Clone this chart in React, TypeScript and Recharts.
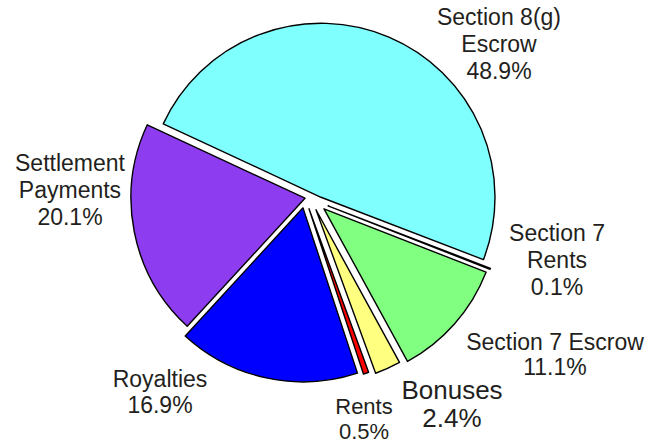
import React from 'react';
import { PieChart, Pie, Cell } from 'recharts';

// slice order runs counter-clockwise from the start angle
const categories = [
  'Section 8(g) Escrow',
  'Settlement Payments',
  'Royalties',
  'Rents',
  'Bonuses',
  'Section 7 Escrow',
  'Section 7 Rents',
];
const shares = [48.9, 20.1, 16.9, 0.5, 2.4, 11.1, 0.1];
const colors = ['#80ffff', '#8e3cf0', '#0000ff', '#ff0000', '#ffff80', '#80ff80', '#ffffff'];
const labelLines = [
  ['Section 8(g)', 'Escrow', '48.9%'],
  ['Settlement', 'Payments', '20.1%'],
  ['Royalties', '16.9%'],
  ['Rents', '0.5%'],
  ['Bonuses', '2.4%'],
  ['Section 7 Escrow', '11.1%'],
  ['Section 7', 'Rents', '0.1%'],
];

const data = categories.map((name, i) => ({ name, value: shares[i] }));

// layout
const W = 660;
const H = 444;
const CX = 313;
const CY = 204;
const RX = 174; // horizontal radius
const RY = 181; // vertical radius (pie is drawn slightly tall)
const K = RY / RX;
const START = -21;
const FONT = '"Liberation Sans", Arial, Helvetica, sans-serif';
const TEXT = '#231f20';
// where each exploded slice's tip sits, relative to the centre (screen px)
const explode: [number, number][] = [
  [8, -7],
  [-8, -6],
  [-10, 4],
  [-4, 5],
  [3, 6],
  [11, 5],
  [15, 2],
];

// label anchor (centre x, first baseline y), font size and line gap
const labelLayout = [
  { x: 499, y: 25, size: 23, gap: 27 },
  { x: 70, y: 171, size: 23, gap: 27 },
  { x: 160, y: 387, size: 23, gap: 26 },
  { x: 364, y: 414, size: 22, gap: 25 },
  { x: 452, y: 399, size: 26, gap: 28 },
  { x: 555, y: 350, size: 23, gap: 25 },
  { x: 557, y: 241, size: 23, gap: 27 },
];

const App: React.FC = () => (
  <div style={{ position: 'absolute', left: 0, top: 0, width: W, height: H, background: '#fff' }}>
    <PieChart width={W} height={H} margin={{ top: 0, right: 0, bottom: 0, left: 0 }} accessibilityLayer={false}>
      <g transform={`translate(0 ${CY}) scale(1 ${K}) translate(0 ${-CY})`}>
        {categories.map((cat, k) => (
          <Pie
            key={cat}
            data={data}
            dataKey="value"
            nameKey="name"
            cx={CX + explode[k][0]}
            cy={CY + explode[k][1] / K}
            outerRadius={RX}
            startAngle={START}
            endAngle={START + 360}
            isAnimationActive={false}
            labelLine={false}
          >
            {data.map((d, i) => (
              <Cell
                key={d.name}
                fill={i === k ? colors[i] : 'none'}
                stroke={i === k ? '#000' : 'none'}
                strokeWidth={1.4}
                strokeLinejoin="round"
              />
            ))}
          </Pie>
        ))}
      </g>
      {labelLines.map((lines, i) => (
        <text
          key={categories[i]}
          x={labelLayout[i].x}
          y={labelLayout[i].y}
          textAnchor="middle"
          fontFamily={FONT}
          fontSize={labelLayout[i].size}
          fill={TEXT}
        >
          {lines.map((t, j) => (
            <tspan key={j} x={labelLayout[i].x} dy={j === 0 ? 0 : labelLayout[i].gap}>
              {t}
            </tspan>
          ))}
        </text>
      ))}
    </PieChart>
  </div>
);

export default App;
